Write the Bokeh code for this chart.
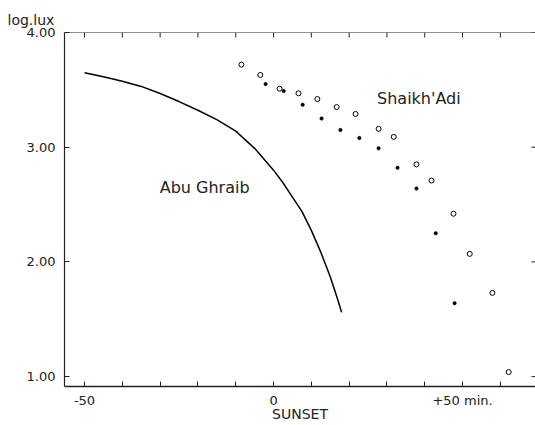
import math

from bokeh.plotting import figure
from bokeh.models import Range1d, FixedTicker, Label, Span
from bokeh.embed import file_html
from bokeh.resources import INLINE

# Abu Ghraib illuminance curve (minutes relative to sunset, log lux)
abu_minutes = [-50, -45, -40, -35, -30, -25, -20, -15, -10, -5, 0, 2.5, 5, 7.5, 10,
               12.5, 15, 17, 18]
abu_lux = [3.65, 3.615, 3.575, 3.53, 3.468, 3.398, 3.322, 3.24, 3.14, 2.99, 2.80,
           2.69, 2.565, 2.44, 2.275, 2.085, 1.87, 1.67, 1.56]

# Shaikh'Adi readings, open circles
adi_open_minutes = [-8.5, -3.5, 1.6, 6.6, 11.6, 16.7, 21.7, 27.8, 31.8, 37.8, 41.8,
                    47.6, 51.9, 57.9, 62.2]
adi_open_lux = [3.72, 3.63, 3.51, 3.47, 3.42, 3.35, 3.29, 3.16, 3.09, 2.85, 2.71,
                2.42, 2.07, 1.73, 1.04]

# Shaikh'Adi readings, filled dots
adi_dot_minutes = [-2.1, 2.7, 7.7, 12.7, 17.7, 22.7, 27.8, 32.8, 37.8, 42.9, 47.9]
adi_dot_lux = [3.55, 3.49, 3.37, 3.25, 3.15, 3.08, 2.99, 2.82, 2.64, 2.25, 1.64]

# Axis ticks and labels
x_ticks = [-50, -40, -30, -20, -10, 0, 10, 20, 30, 40, 50, 60]
x_tick_labels = {-50: "-50", 0: "0", 50: "+50 min."}
y_ticks = [1, 2, 3, 4]
y_tick_labels = {1: "1.00", 2: "2.00", 3: "3.00", 4: "4.00"}

FONT = "DejaVu Sans"
INK = "#222222"
X_START, X_END = -55.3, 69.3
Y_START, Y_END = 0.914, 4.0

p = figure(width=535, height=425, output_backend="svg", toolbar_location=None,
           x_range=Range1d(X_START, X_END), y_range=Range1d(Y_START, Y_END),
           min_border_left=64, min_border_right=0, min_border_top=32,
           min_border_bottom=39)
p.outline_line_color = None
p.xgrid.visible = False
p.ygrid.visible = False
p.background_fill_color = "white"
p.border_fill_color = "white"

# unit label in the top-left corner
p.title.text = "log.lux"
p.title.align = "left"
p.title.offset = -57
p.title.text_font = FONT
p.title.text_font_size = "14px"
p.title.text_font_style = "normal"
p.title.text_color = INK

# bottom axis
xa = p.xaxis[0]
xa.ticker = FixedTicker(ticks=x_ticks)
xa.major_label_overrides = {t: x_tick_labels.get(t, "") for t in x_ticks}
xa.major_tick_in = 5
xa.major_tick_out = 0
xa.minor_tick_line_color = None
xa.major_label_standoff = 6
xa.major_label_text_font = FONT
xa.major_label_text_font_size = "13px"
xa.major_label_text_color = INK
xa.axis_line_color = INK
xa.axis_line_width = 1.3
xa.major_tick_line_color = INK
xa.axis_label = "SUNSET"
xa.axis_label_standoff = -5
xa.axis_label_text_font = FONT
xa.axis_label_text_font_size = "14px"
xa.axis_label_text_font_style = "normal"
xa.axis_label_text_color = INK

# left axis
ya = p.yaxis[0]
ya.ticker = FixedTicker(ticks=y_ticks)
ya.major_label_overrides = y_tick_labels
ya.major_tick_in = 5
ya.major_tick_out = 0
ya.minor_tick_line_color = None
ya.major_label_standoff = 9
ya.major_label_text_font = FONT
ya.major_label_text_font_size = "13px"
ya.major_label_text_color = INK
ya.axis_line_color = INK
ya.axis_line_width = 1.2
ya.major_tick_line_color = INK

# top frame line with inward ticks
p.add_layout(Span(location=Y_END, dimension="width", line_color=INK, line_width=1.2))
p.ray(x=x_ticks, y=[Y_END] * len(x_ticks), length=5, length_units="screen",
      angle=-math.pi / 2, line_color=INK, line_width=1)

# inward ticks along the right edge
p.ray(x=[X_END] * len(y_ticks), y=y_ticks, length=4, length_units="screen",
      angle=math.pi, line_color=INK, line_width=1)

# curve and readings
p.line(abu_minutes, abu_lux, line_color="black", line_width=1.5, line_join="round")
p.scatter(adi_open_minutes, adi_open_lux, marker="circle", size=5,
          fill_color="white", line_color="black", line_width=1)
p.scatter(adi_dot_minutes, adi_dot_lux, marker="circle", size=3.5,
          fill_color="black", line_color="black", line_width=0.5)

# curve labels
p.add_layout(Label(x=-6.35, y=2.65, text="Abu Ghraib", text_align="right",
                   text_baseline="alphabetic", text_font=FONT, text_font_size="16px",
                   text_color=INK))
p.add_layout(Label(x=49.5, y=3.425, text="Shaikh'Adi", text_align="right",
                   text_baseline="alphabetic", text_font=FONT, text_font_size="16px",
                   text_color=INK))

open("out.html", "w").write(file_html(p, INLINE))
